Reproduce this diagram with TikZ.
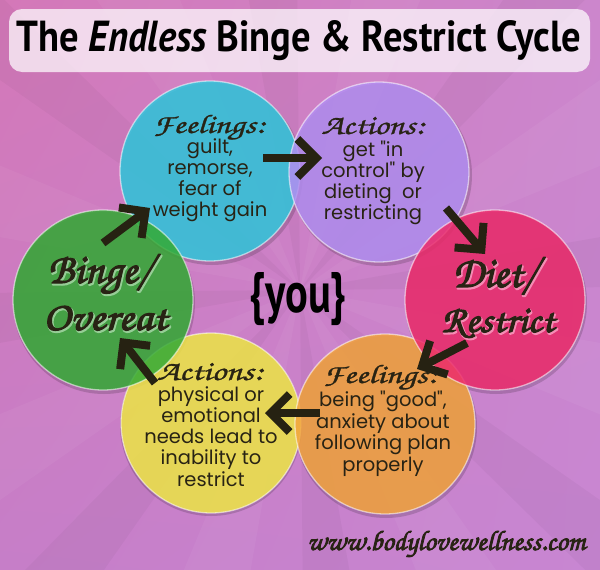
\documentclass[tikz,border=0pt]{standalone}
\usepackage[T1]{fontenc}
\usepackage{fontspec}
\usetikzlibrary{arrows.meta,shadings}
\newfontfamily\titlefont{PT Sans}
\newfontfamily\bodyfont{Poppins}
\newcommand\chancery[1]{\fontencoding{T1}\fontfamily{pzc}\fontseries{mb}\fontshape{it}\fontsize{#1}{#1}\selectfont}
\newcommand\fb[2]{\special{pdf:literal direct #1 w 1 j 2 Tr}#2\special{pdf:literal direct 0 Tr}}
\definecolor{bgA}{RGB}{212,120,184}
\definecolor{bgB}{RGB}{204,134,204}
\definecolor{bgC}{RGB}{198,126,200}
\definecolor{bgD}{RGB}{200,134,210}
\definecolor{cteal}{RGB}{49,200,221}
\definecolor{cpurple}{RGB}{179,143,242}
\definecolor{cpink}{RGB}{237,44,108}
\definecolor{corange}{RGB}{243,164,61}
\definecolor{cyellow}{RGB}{241,233,73}
\definecolor{cgreen}{RGB}{53,171,54}
\definecolor{txtc}{RGB}{40,35,20}
\definecolor{arrowc}{RGB}{38,34,18}
\definecolor{halog}{RGB}{150,205,150}
\definecolor{halop}{RGB}{245,140,180}
\begin{document}
\begin{tikzpicture}[x=1pt,y=-1pt,
  bubble/.style={circle, minimum size=180pt, inner sep=0pt, fill=#1, fill opacity=0.85, draw=white, draw opacity=0.55, line width=1.3pt},
  shadowc/.style={circle, minimum size=182pt, inner sep=0pt, fill=black, fill opacity=0.16},
  arr/.style={draw=arrowc, line width=8pt, -{Straight Barb[length=19pt,width=38pt,sharp]}},
  body/.style={text=txtc, font=\bodyfont\fontsize{19.5}{20}\selectfont, anchor=base, inner sep=0pt},
  head/.style={text=txtc, anchor=base, inner sep=0pt},
  big/.style={text=txtc, anchor=base, inner sep=0pt},
  ray/.style={fill=white, fill opacity=0.045},
  dray/.style={fill=black, fill opacity=0.03}]
% background
\useasboundingbox (0,0) rectangle (600,570);
\shade[upper left=bgA, upper right=bgB, lower left=bgC, lower right=bgD] (0,0) rectangle (600,570);
\begin{scope}
\clip (0,0) rectangle (600,570);
\foreach \a in {10,55,...,325}{
  \fill[ray] (300,290) -- ++(\a:900) -- ++(\a+90:200) -- cycle;
}
\foreach \a in {35,80,...,350}{
  \fill[dray] (300,290) -- ++(\a:900) -- ++(\a+90:150) -- cycle;
}
\end{scope}
% title
\node[fill=white, fill opacity=0.72, rounded corners=13pt, minimum width=581pt, minimum height=63pt, inner sep=0pt] (titlebox) at (299.5,40.5) {};
\node[anchor=base, inner sep=0pt, text=black] (title) at (299,52) {\resizebox{565pt}{31pt}{\titlefont\bfseries The \itshape Endless\upshape{} Binge \& Restrict Cycle}};
% shadows
\foreach \p in {(211,425),(386,427),(496,303),(381,175),(212,174),(104,303)}{
  \node[shadowc] at \p {};
}
% circles
\node[bubble=cyellow] (yellow) at (211,423) {};
\node[bubble=corange] (orange) at (385,424) {};
\node[bubble=cteal] (teal) at (210,171) {};
\node[bubble=cpurple] (purple) at (379,172) {};
\node[bubble=cpink] (pink) at (495,300) {};
\node[bubble=cgreen] (green) at (103,300) {};
% arrows
\coordinate (a1s) at (103,243); \coordinate (a1e) at (150,208);
\coordinate (a2s) at (263,158); \coordinate (a2e) at (322,158);
\coordinate (a3s) at (446,208); \coordinate (a3e) at (485,254);
\coordinate (a4s) at (467,343); \coordinate (a4e) at (417,369);
\coordinate (a5s) at (320,413); \coordinate (a5e) at (265,413);
\coordinate (a6s) at (155,383); \coordinate (a6e) at (120,338);
\draw[arr] (a1s) -- (a1e);
\draw[arr] (a2s) -- (a2e);
\draw[arr] (a3s) -- (a3e);
\draw[arr] (a4s) -- (a4e);
\draw[arr] (a5s) -- (a5e);
\draw[arr] (a6s) -- (a6e);
% teal text
\node[head] (th) at (209,133) {\resizebox{112pt}{19pt}{\chancery{26}\fb{0.25}{Feelings:}}};
\node[body] (t1) at (210,153) {guilt,};
\node[body] (t2) at (210,174) {remorse,};
\node[body] (t3) at (210,195) {fear of};
\node[body] (t4) at (210,216) {weight gain};
% purple text
\node[head] (ph) at (373,134) {\resizebox{103pt}{17pt}{\chancery{26}\fb{0.25}{Actions:}}};
\node[body] (p1) at (373,156) {get "in};
\node[body] (p2) at (373,177) {control" by};
\node[body] (p3) at (373,198) {dieting\ \ or};
\node[body] (p4) at (373,219) {restricting};
% orange text
\node[head] (oh) at (380,383) {\resizebox{114pt}{19pt}{\chancery{26}\fb{0.25}{Feelings:}}};
\node[body] (o1) at (383,406) {being "good",};
\node[body] (o2) at (383,428) {anxiety about};
\node[body] (o3) at (383,449) {following plan};
\node[body] (o4) at (383,471) {properly};
% yellow text
\node[head] (yh) at (210,380) {\resizebox{106pt}{17pt}{\chancery{26}\fb{0.25}{Actions:}}};
\node[body] (y1) at (211,401) {physical or};
\node[body] (y2) at (211,422) {emotional};
\node[body] (y3) at (211,443) {needs lead to};
\node[body] (y4) at (211,464) {inability to};
\node[body] (y5) at (211,486) {restrict};
% big labels (halo + text)
\node[big, text=halog] at (101,284.5) {\resizebox{104pt}{28pt}{\chancery{40}\fb{2.2}{Binge/}}};
\node[big] (g1) at (100,283) {\resizebox{104pt}{28pt}{\chancery{40}\fb{1.1}{Binge/}}};
\node[big, text=halog] at (106,331.5) {\resizebox{124pt}{25pt}{\chancery{40}\fb{2.2}{Overeat}}};
\node[big] (g2) at (105,330) {\resizebox{124pt}{25pt}{\chancery{40}\fb{1.1}{Overeat}}};
\node[big, text=halop] at (496,288.5) {\resizebox{84pt}{29pt}{\chancery{40}\fb{2.2}{Diet/}}};
\node[big] (r1) at (495,287) {\resizebox{84pt}{29pt}{\chancery{40}\fb{1.1}{Diet/}}};
\node[big, text=halop] at (499,333.5) {\resizebox{113pt}{25pt}{\chancery{40}\fb{2.2}{Restrict}}};
\node[big] (r2) at (498,332) {\resizebox{113pt}{25pt}{\chancery{40}\fb{1.1}{Restrict}}};
% you
\node[anchor=base, inner sep=0pt, text=black] (you) at (298,312) {\resizebox{97pt}{40pt}{\titlefont\bfseries\{you\}}};
% url
\node[anchor=base west, inner sep=0pt, text=txtc] (url) at (307,550) {\resizebox{278pt}{20pt}{\chancery{28}\fb{0.8}{www.bodylovewellness.com}}};
\end{tikzpicture}
\end{document}
